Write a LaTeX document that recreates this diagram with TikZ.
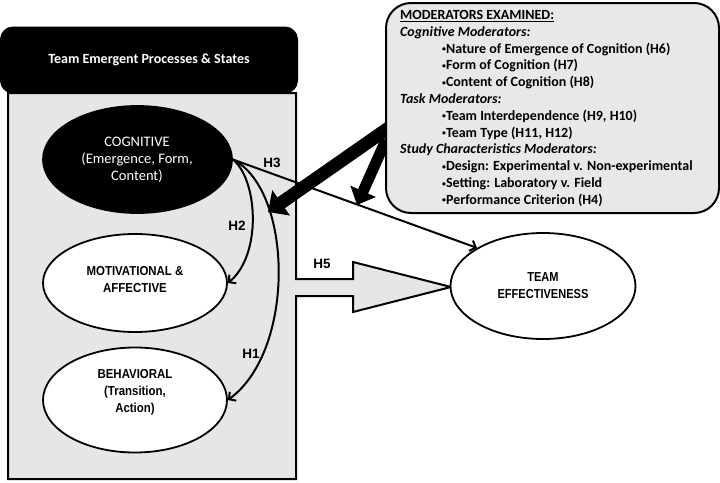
\documentclass[tikz,border=0pt]{standalone}
\usepackage{fontspec}
\usepackage{graphicx}
\setmainfont{Carlito}
\newfontfamily\narrowfont[FakeStretch=0.88]{Liberation Sans}
\newfontfamily\tefont[FakeStretch=0.85]{Liberation Sans}
\newfontfamily\hfont{Liberation Sans}
\newcommand\mybul{\raisebox{0.2ex}{\scalebox{0.55}{•}}}
\usetikzlibrary{shapes.geometric,arrows.meta}
\definecolor{panelgray}{RGB}{230,230,230}
\definecolor{boxgray}{RGB}{232,232,232}
\begin{document}
\begin{tikzpicture}[x=1pt,y=-1pt,
  ell/.style={ellipse, draw, line width=1.8pt, inner sep=0pt},
  hlab/.style={font=\hfont\bfseries\fontsize{13.5}{13.5}\selectfont, inner sep=0pt},
  modline/.style={anchor=base west, inner sep=0pt, font=\bfseries\fontsize{14}{14}\selectfont},
  modhead/.style={anchor=base west, inner sep=0pt, font=\bfseries\itshape\fontsize{14}{14}\selectfont},
  ellbold/.style={align=center, inner sep=0pt, font=\narrowfont\bfseries\fontsize{13}{17}\selectfont},
  link/.style={line width=2pt, -{Straight Barb[length=5pt,width=11pt]}},
  bigone/.style={line width=13pt, -{Triangle[length=16pt,width=30pt]}},
  bigtwo/.style={line width=11pt, -{Triangle[length=15pt,width=27pt]}},
]
\useasboundingbox (0,0) rectangle (720,482);

% panel with H5 arrow
\coordinate (h5tip) at (451,287);
\draw[fill=panelgray, line width=2pt, line join=miter] (8,93) -- (296,93) -- (296,279) -- (353,279) -- (353,262) -- (h5tip)
  -- (353,312) -- (353,296) -- (296,296) -- (296,479) -- (8,479) -- cycle;

% ellipses
\node[ell, fill=black, minimum width=189pt, minimum height=107pt] (cog) at (137.5,159.5) {};
\node[ell, fill=white, minimum width=184pt, minimum height=98pt] (mot) at (135,283) {};
\node[ell, fill=white, minimum width=184pt, minimum height=105pt] (beh) at (135,400) {};
\node[ell, fill=white, minimum width=185pt, minimum height=106pt, align=center,
      font=\tefont\bfseries\fontsize{13}{17}\selectfont] (te) at (543,286) {TEAM\\EFFECTIVENESS};

\node[align=center, inner sep=0pt, text=white, font=\fontsize{14.5}{17}\selectfont] (cogt) at (137,160)
  {COGNITIVE\\(Emergence, Form,\\Content)};
\node[ellbold] (mott) at (135,280) {MOTIVATIONAL \&\\AFFECTIVE};
\node[ellbold] (beht) at (135,392) {BEHAVIORAL\\(Transition,\\Action)};

% header
\node[fill=black, rounded corners=13pt, minimum width=298pt, minimum height=67pt, inner sep=0pt,
      text=white, font=\bfseries\fontsize{14}{14}\selectfont] (hdr) at (149,60)
  {Team Emergent Processes \& States};

% thick moderator arrows (start hidden under box)
\coordinate (m1s) at (392,125.5);
\coordinate (m1e) at (268,212);
\coordinate (m2s) at (386,140);
\coordinate (m2e) at (357,205);
\draw[bigone] (m1s) -- (m1e);
\draw[bigtwo] (m2s) -- (m2e);

% moderators box
\node[draw, fill=boxgray, line width=2pt, rounded corners=25pt, minimum width=333pt, minimum height=210pt,
      anchor=north west, inner sep=0pt] (mod) at (385,2) {};
\node[modline] (l1) at (400,19.5) {\underline{MODERATORS EXAMINED:}};
\node[modhead] (l2) at (400,36.3) {Cognitive Moderators:};
\node[modline] (l3) at (442,53.1) {\mybul Nature of Emergence of Cognition (H6)};
\node[modline] (l4) at (442,69.9) {\mybul Form of Cognition (H7)};
\node[modline] (l5) at (442,86.7) {\mybul Content of Cognition (H8)};
\node[modhead] (l6) at (400,103.5) {Task Moderators:};
\node[modline] (l7) at (442,120.3) {\mybul Team Interdependence (H9, H10)};
\node[modline] (l8) at (442,137.1) {\mybul Team Type (H11, H12)};
\node[modhead] (l9) at (400,153.9) {Study Characteristics Moderators:};
\node[modline] (l10) at (442,170.7) {\mybul Design: Experimental v. Non-experimental};
\node[modline] (l11) at (442,187.5) {\mybul Setting: Laboratory v. Field};
\node[modline] (l12) at (442,204.3) {\mybul Performance Criterion (H4)};

% hypothesis links
\draw[link] (cog.east) -- (te.150);
\draw[link] (cog.east) .. controls (258,180) and (262,255) .. (mot.east);
\draw[link] (cog.east) .. controls (293,190) and (296,350) .. (beh.east);

% labels
\node[hlab] (h3) at (272,163) {H3};
\node[hlab] (h2) at (237,226) {H2};
\node[hlab] (h1) at (251,354) {H1};
\node[hlab] (h5) at (322,264) {H5};
\end{tikzpicture}
\end{document}
